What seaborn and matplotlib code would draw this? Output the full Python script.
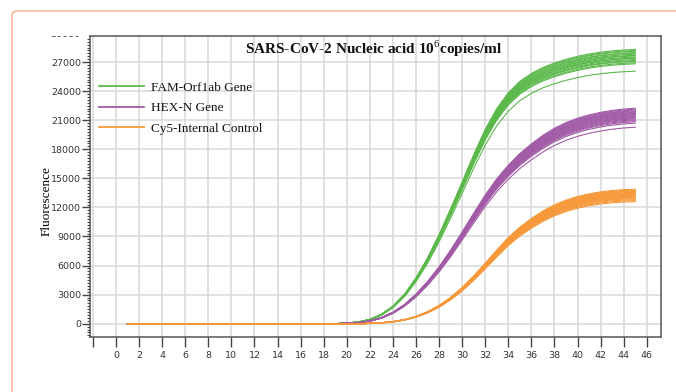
import numpy as np
import pandas as pd
import matplotlib
matplotlib.use("Agg")
import matplotlib.pyplot as plt
import matplotlib.transforms as mtransforms
import seaborn as sns
from matplotlib.patches import FancyBboxPatch, Rectangle
from matplotlib.lines import Line2D
from matplotlib.ticker import FixedLocator, FixedFormatter, MultipleLocator

# ---------------- data ----------------
cycles = list(range(1, 46))

fam_shape = [0]*19 + [60, 170, 430, 930, 1750, 2950, 4600, 6600, 8950, 11550,
                      14250, 17000, 19550, 21650, 23250, 24400, 25200, 25800, 26250,
                      26620, 26920, 27160, 27340, 27470, 27560, 27620]
hex_shape = [0]*19 + [30, 100, 270, 600, 1120, 1880, 2900, 4150, 5600, 7250,
                      9050, 10900, 12700, 14300, 15650, 16800, 17750, 18600, 19300,
                      19860, 20290, 20620, 20870, 21060, 21190, 21280]
cy5_shape = [0]*21 + [30, 90, 200, 400, 720, 1180, 1800, 2600, 3580, 4720, 5980,
                      7280, 8520, 9550, 10400, 11150, 11750, 12220, 12580, 12850,
                      13040, 13170, 13250, 13290]

fam_ends = [28310, 28190, 28120, 27980, 27930, 27810, 27700, 27640, 27520, 27430,
            27390, 27260, 27150, 27080, 26930, 26820, 26060]
hex_ends = [22240, 22150, 22060, 21980, 21900, 21820, 21760, 21690, 21600, 21540,
            21470, 21380, 21300, 21230, 21150, 21050, 20960, 20850, 20700, 20280]
cy5_ends = [13870, 13780, 13700, 13640, 13560, 13500, 13430, 13370, 13300, 13240,
            13180, 13110, 13050, 12980, 12900, 12800, 12700, 12590]

channels = ["FAM-Orf1ab Gene", "HEX-N Gene", "Cy5-Internal Control"]
colors = ["#5bb94b", "#a25ba7", "#f7993a"]

x_ticks = list(range(-2, 47, 2))
x_labels = [""] + [str(v) for v in range(0, 47, 2)]
y_ticks = list(range(0, 30001, 3000))

title = "SARS-CoV-2 Nucleic acid 10$^{6}$copies/ml"
ylabel = "Fluorescence"

# ---------------- long table ----------------
rows = []
for ch, shape, ends in zip(channels, [fam_shape, hex_shape, cy5_shape],
                           [fam_ends, hex_ends, cy5_ends]):
    shp = np.array(shape, dtype=float)
    for r, e in enumerate(ends):
        vals = shp * (e / shp[-1])
        for c, v in zip(cycles, vals):
            rows.append((ch, f"{ch}-{r}", c, v))
df = pd.DataFrame(rows, columns=["channel", "rep", "cycle", "fluor"])

# ---------------- figure ----------------
plt.rcParams["mathtext.fontset"] = "custom"
plt.rcParams["mathtext.rm"] = "Liberation Serif"
plt.rcParams["mathtext.bf"] = "Liberation Serif:bold"

W, H = 676, 392
fig = plt.figure(figsize=(W/100, H/100), dpi=100)
fig.patch.set_facecolor("white")

# card border
card = FancyBboxPatch((12, -30), 720, H - 11 + 30,
                      boxstyle="round,pad=0,rounding_size=5",
                      transform=mtransforms.IdentityTransform(),
                      facecolor="none", edgecolor="#f7b797", linewidth=1.2)
fig.add_artist(card)

ax = fig.add_axes([90/W, 55/H, 571/W, 301/H])

sns.lineplot(data=df, x="cycle", y="fluor", hue="channel", units="rep",
             estimator=None, palette=colors, hue_order=channels,
             linewidth=0.8, legend=False, ax=ax)

ax.set_xlim(-2.25, 47.23)
ax.set_ylim(-1373, 29690)

ax.xaxis.set_major_locator(FixedLocator(x_ticks))
ax.xaxis.set_major_formatter(FixedFormatter(x_labels))
ax.yaxis.set_major_locator(FixedLocator(y_ticks))
ax.yaxis.set_minor_locator(MultipleLocator(300))

ax.grid(True, which="major", color="#d9d9d9", linewidth=1.1)
ax.set_axisbelow(True)

for s in ax.spines.values():
    s.set_color("#555555")
    s.set_linewidth(1.1)

ax.tick_params(axis="x", which="major", length=7, width=1.0, color="#444444",
               labelsize=6.8, labelcolor="#333333", pad=3)
ax.tick_params(axis="y", which="major", length=5.5, width=1.0, color="#444444",
               labelsize=6.8, labelcolor="#333333", pad=1)
ax.tick_params(axis="y", which="minor", length=2.2, width=0.8, color="#444444")
for lab in ax.get_xticklabels() + ax.get_yticklabels():
    lab.set_fontfamily("DejaVu Sans")

ax.set_xlabel("")
ax.set_ylabel(ylabel, fontfamily="Liberation Serif", fontsize=9.5)
ax.yaxis.set_label_coords(-0.066, 0.452)

# partially clipped top tick label
off = mtransforms.ScaledTranslation(0, -2/100, fig.dpi_scale_trans)
t = ax.text(-0.0175, 30000, "30000", transform=ax.get_yaxis_transform() + off,
            ha="right", va="center", fontsize=6.8, color="#333333",
            fontfamily="DejaVu Sans", clip_on=True)
t.set_clip_path(Rectangle((0, 0), 1, (H - 35.5)/H, transform=fig.transFigure))

ax.text(0.497, 0.958, title, transform=ax.transAxes, ha="center", va="center",
        fontsize=11, fontweight="bold", fontfamily="Liberation Serif", color="#111111")

handles = [Line2D([0], [0], color=c, lw=1.3) for c in colors]
leg = ax.legend(handles, channels, loc="upper left", bbox_to_anchor=(0.016, 0.848),
                frameon=False, borderpad=0, borderaxespad=0, handlelength=3.4,
                handletextpad=0.55, labelspacing=0.62,
                prop={"family": "Liberation Serif", "size": 9.5})
for txt in leg.get_texts():
    txt.set_color("#111111")

fig.savefig("out.png", dpi=100, facecolor="white")
